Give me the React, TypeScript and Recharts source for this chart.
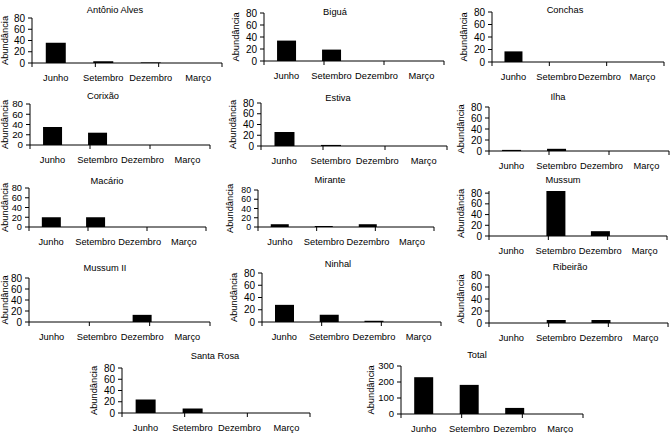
import React from 'react';
import { BarChart, Bar, XAxis, YAxis } from 'recharts';

// campaigns (categories)
const MONTHS = ['Junho', 'Setembro', 'Dezembro', 'Março'];

// abundance per site, one value per campaign
const antonioAlves = [36, 3, 1, 0];
const bigua = [34, 19, 0, 0];
const conchas = [17, 0, 0, 0];
const corixao = [35, 24, 0, 0];
const estiva = [26, 2, 0, 0];
const ilha = [2, 4, 0, 0];
const macario = [20, 20, 0, 0];
const mirante = [6, 2, 6, 0];
const mussum = [0, 84, 9, 0];
const mussumII = [0, 0, 13, 0];
const ninhal = [28, 12, 2, 0];
const ribeirao = [0, 5, 5, 0];
const santaRosa = [24, 8, 0, 0];
const total = [230, 182, 38, 0];

const SITE_TICKS = [0, 20, 40, 60, 80];
const TOTAL_TICKS = [0, 100, 200, 300];

// band edges, used for the little tick marks between the categories
const EDGES = MONTHS.map((_, i) => i).concat(MONTHS.length);

// where each small chart sits on the page (y axis x, x axis end, top/bottom of plot, title centre)
type Box = { axis: number; end: number; top: number; bottom: number; tx: number; ty: number };

const panels: { title: string; values: number[]; ticks: number[]; box: Box }[] = [
  { title: 'Antônio Alves', values: antonioAlves, ticks: SITE_TICKS, box: { axis: 32, end: 222, top: 18, bottom: 63, tx: 115, ty: 10 } },
  { title: 'Biguá', values: bigua, ticks: SITE_TICKS, box: { axis: 264, end: 444, top: 13, bottom: 61, tx: 335, ty: 12 } },
  { title: 'Conchas', values: conchas, ticks: SITE_TICKS, box: { axis: 492, end: 664, top: 12, bottom: 62, tx: 565, ty: 10 } },
  { title: 'Corixão', values: corixao, ticks: SITE_TICKS, box: { axis: 30, end: 210, top: 104, bottom: 145, tx: 103, ty: 96 } },
  { title: 'Estiva', values: estiva, ticks: SITE_TICKS, box: { axis: 261, end: 447, top: 103, bottom: 146, tx: 338, ty: 98 } },
  { title: 'Ilha', values: ilha, ticks: SITE_TICKS, box: { axis: 489, end: 669, top: 107, bottom: 151, tx: 558, ty: 97 } },
  { title: 'Macário', values: macario, ticks: SITE_TICKS, box: { axis: 29, end: 206, top: 188, bottom: 227, tx: 107, ty: 181 } },
  { title: 'Mirante', values: mirante, ticks: SITE_TICKS, box: { axis: 258, end: 434, top: 190, bottom: 227, tx: 330, ty: 180 } },
  { title: 'Mussum', values: mussum, ticks: SITE_TICKS, box: { axis: 489, end: 667, top: 191, bottom: 236, tx: 563, ty: 180 } },
  { title: 'Mussum II', values: mussumII, ticks: SITE_TICKS, box: { axis: 29, end: 210, top: 278, bottom: 322, tx: 105, ty: 268 } },
  { title: 'Ninhal', values: ninhal, ticks: SITE_TICKS, box: { axis: 262, end: 441, top: 273, bottom: 322, tx: 338, ty: 264 } },
  { title: 'Ribeirão', values: ribeirao, ticks: SITE_TICKS, box: { axis: 489, end: 668, top: 275, bottom: 323, tx: 570, ty: 267 } },
  { title: 'Santa Rosa', values: santaRosa, ticks: SITE_TICKS, box: { axis: 122, end: 310, top: 368, bottom: 413, tx: 215, ty: 356 } },
  { title: 'Total', values: total, ticks: TOTAL_TICKS, box: { axis: 401, end: 583, top: 366, bottom: 414, tx: 477, ty: 355 } },
];

const MT = 8;
const MR = 8;
const EDGE_H = 1;
const XH = 26;

const Panel = ({ title, values, ticks, box }: { title: string; values: number[]; ticks: number[]; box: Box }) => {
  const data = MONTHS.map((m, i) => ({ month: m, value: values[i] }));
  const isTotal = ticks[ticks.length - 1] > 100;
  const plotH = box.bottom - box.top;
  const tickFont = Math.min(10, plotH / (ticks.length - 1) - 0.5);
  // keep the rotated axis title inside the page
  const labelX = Math.max(box.axis - (isTotal ? 30 : 28), 5);
  const yw = 2 * (box.axis - labelX);
  const w = yw + (box.end - box.axis) + MR;
  const h = MT + plotH + EDGE_H + XH;
  return (
    <>
      <div
        style={{
          position: 'absolute',
          left: box.tx,
          top: box.ty,
          transform: 'translate(-50%, -50%)',
          fontSize: 9.3,
          whiteSpace: 'nowrap',
          color: '#000',
        }}
      >
        {title}
      </div>
      <div style={{ position: 'absolute', left: box.axis - yw, top: box.top - MT }}>
        <BarChart width={w} height={h} data={data} margin={{ top: MT, right: MR, bottom: 0, left: 0 }} barCategoryGap="29%">
          <XAxis
            xAxisId="b-cat"
            dataKey="month"
            height={XH}
            axisLine={false}
            tickLine={false}
            tickSize={0}
            tickMargin={10}
            interval={0}
            tick={{ fontSize: 9.3, fill: '#000' }}
          />
          <XAxis
            xAxisId="a-edge"
            type="number"
            domain={[0, MONTHS.length]}
            ticks={EDGES}
            interval={0}
            height={EDGE_H}
            tickFormatter={() => ''}
            tick={{ fontSize: 1, fill: 'none' }}
            tickLine={{ stroke: '#000' }}
            tickSize={4}
            stroke="#000"
            allowDataOverflow
          />
          <YAxis
            domain={[0, ticks[ticks.length - 1]]}
            ticks={ticks}
            interval={0}
            width={yw}
            tickSize={4}
            tickMargin={3}
            stroke="#000"
            tick={{ fontSize: isTotal ? 9.5 : tickFont, fill: '#000' }}
            label={{ value: 'Abundância', angle: -90, position: 'center', fontSize: 9.3, fill: '#000' }}
          />
          <Bar xAxisId="b-cat" dataKey="value" fill="#000" isAnimationActive={false} />
        </BarChart>
      </div>
    </>
  );
};

export default function App() {
  return (
    <div
      style={{
        position: 'absolute',
        left: 0,
        top: 0,
        width: 671,
        height: 433,
        overflow: 'hidden',
        background: '#fff',
        fontFamily: '"Liberation Sans", Arial, sans-serif',
      }}
    >
      {panels.map((p) => (
        <Panel key={p.title} {...p} />
      ))}
    </div>
  );
}
